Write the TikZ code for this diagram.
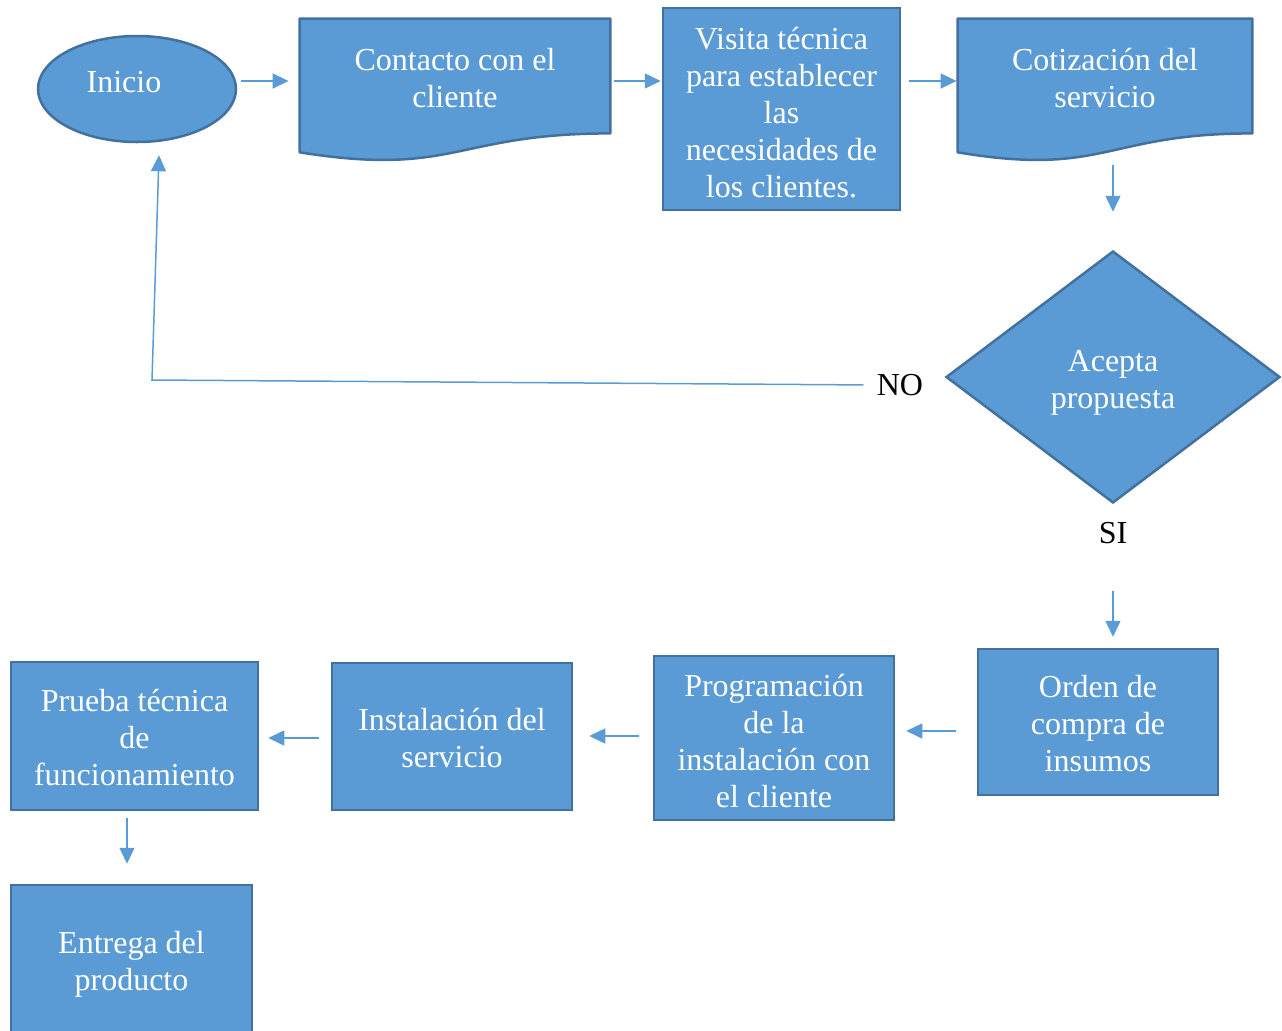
\documentclass[tikz,border=0pt]{standalone}
\usepackage{fontspec}
\setmainfont{Liberation Serif}
\usetikzlibrary{shapes.geometric,arrows.meta,calc,backgrounds}
\definecolor{boxfill}{HTML}{5B9BD5}
\definecolor{boxline}{HTML}{41719C}
\definecolor{linkcol}{HTML}{5B9BD5}

\tikzset{
  base/.style={font=\fontsize{16}{18.5}\selectfont, text=white, align=center, inner sep=0pt},
  procbox/.style={base, rectangle, draw=boxline, fill=boxfill, line width=1.25pt},
  docbox/.style={base, rectangle},
  docfill/.style={draw=boxline, fill=boxfill, line width=1.25pt, line join=round},
  decision/.style={base, diamond, draw=boxline, fill=boxfill, line width=1.25pt},
  startend/.style={base, ellipse, draw=boxline, fill=boxfill, line width=1.25pt},
  conn/.style={draw=linkcol, line width=0.75pt, -{Triangle[width=7.5pt,length=8pt]}},
  plain/.style={font=\fontsize{16}{18.5}\selectfont, text=black, inner sep=1pt},
}

% line struts: ascent on the first line, descent on the last one
\newcommand\tp[1][16pt]{\rule{0pt}{#1}}
\newcommand\bt{\rule[-3.46pt]{0pt}{0pt}}

% Document symbol: the node covers the part above the wavy bottom edge
\newcommand\docshape[1]{%
  \begin{scope}[on background layer]
    \path[docfill] (#1.north west) -- (#1.north east) -- (#1.south east)
      .. controls (#1.south) and ($(#1.north)!1.381!(#1.south)$)
      .. ($(#1.north west)!1.1646!(#1.south west)$) -- cycle;
  \end{scope}}

\begin{document}
\begin{tikzpicture}[x=0.5pt,y=-0.5pt]
\clip (0,0) rectangle (1282,1030);

% top row
\node[startend, minimum width=99pt, minimum height=53pt] (inicio) at (137,89) {};
\node[base] (iniciotxt) at (124,82) {Inicio};

\node[docbox, minimum width=155pt, minimum height=57pt] (contacto) at (455,76)
  {\tp Contacto con el\\cliente\bt};
\docshape{contacto}

\node[procbox, minimum width=118.5pt, minimum height=101pt] (visita) at (781.5,109)
  {\tp[17.8pt]Visita técnica\\para establecer\\las\\necesidades de\\los clientes.\bt};

\node[docbox, minimum width=147pt, minimum height=57pt] (cotiz) at (1105,76)
  {\tp Cotización del\\servicio\bt};
\docshape{cotiz}

% decision
\node[decision, minimum width=167pt, minimum height=126pt] (acepta) at (1113,377)
  {\tp Acepta\\propuesta\bt};
\node[plain] (no) at (900,385) {NO};
\node[plain] (si) at (1113,533) {SI};
\coordinate (corner) at (152,380);

% bottom row
\node[procbox, minimum width=120pt, minimum height=73pt] (orden) at (1098,722)
  {\tp Orden de\\compra de\\insumos\bt};
\node[procbox, minimum width=120pt, minimum height=82pt] (prog) at (774,738)
  {\tp[17.8pt]Programación\\de la\\instalación con\\el cliente\bt};
\node[procbox, minimum width=120pt, minimum height=73.5pt] (instal) at (452,736.5)
  {\tp Instalación del\\servicio\bt};
\node[procbox, minimum width=123.5pt, minimum height=74pt] (prueba) at (134.5,736)
  {\tp Prueba técnica\\de\\funcionamiento\bt};
\node[procbox, minimum width=120.5pt, minimum height=76pt] (entrega) at (131.5,961)
  {\tp[14.26pt]Entrega del\\producto\bt};

% connectors
\draw[conn, shorten <=2pt, shorten >=5.5pt]
  ([yshift=4pt]inicio.east) -- ([yshift=4pt]inicio.east -| contacto.west);
\draw[conn, shorten <=2pt, shorten >=0.5pt]
  ([yshift=-2.5pt]contacto.east) -- ([yshift=-2.5pt]contacto.east -| visita.west);
\draw[conn, shorten <=4pt, shorten >=0.5pt]
  ([yshift=-2.5pt]cotiz.west -| visita.east) -- ([yshift=-2.5pt]cotiz.west);
\draw[conn, shorten <=16pt, shorten >=19pt]
  (acepta.north |- cotiz.south) -- (acepta.north);
\draw[conn, shorten <=5.5pt]
  (no.west) -- (corner) -- ([xshift=11pt,yshift=-6pt]inicio.south);
\draw[conn, shorten <=43.5pt, shorten >=5.5pt]
  (acepta.south) -- (acepta.south |- orden.north);
\draw[conn, shorten <=10.5pt, shorten >=5.5pt]
  ([yshift=-4.5pt]orden.west) -- ([yshift=-4.5pt]orden.west -| prog.east);
\draw[conn, shorten <=7pt, shorten >=8pt]
  ([yshift=1pt]prog.west) -- ([yshift=1pt]prog.west -| instal.east);
\draw[conn, shorten <=6pt, shorten >=4.5pt]
  ([yshift=-0.75pt]instal.west) -- ([yshift=-0.75pt]instal.west -| prueba.east);
\draw[conn, shorten <=3.5pt, shorten >=10pt]
  ([xshift=-3.75pt]prueba.south) -- ([xshift=-3.75pt]prueba.south |- entrega.north);
\end{tikzpicture}
\end{document}
